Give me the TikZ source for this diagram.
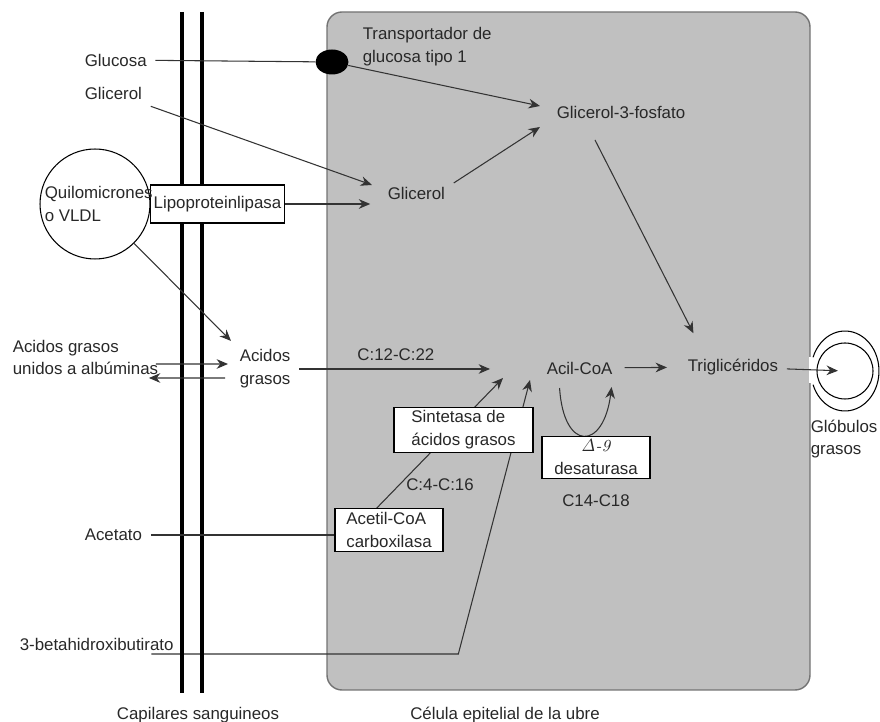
\documentclass[tikz,border=0pt]{standalone}
\usepackage[no-math]{fontspec}
\setsansfont{Liberation Sans}
\usetikzlibrary{arrows.meta,shapes.geometric,backgrounds}
\definecolor{celgray}{RGB}{192,192,192}
\definecolor{celedge}{RGB}{115,115,115}
\definecolor{txtgray}{RGB}{40,40,40}

\begin{document}
\begin{tikzpicture}[
    x=0.02cm, y=-0.02cm,
    font=\sffamily\fontsize{9.6}{13}\selectfont,
    lbl/.style={inner sep=0pt, outer sep=5pt, anchor=west, align=left, text=txtgray},
    box/.style={draw, fill=white, line width=0.6pt, inner sep=2pt, align=left, text=txtgray},
    ln/.style={draw=black!80, line width=0.6pt},
    arr/.style={ln, -{Stealth[length=6.5pt,width=5.5pt]}},
    capil/.style={line width=1.8pt}
]
    \useasboundingbox (0,0) rectangle (880,722);

    % Cell
    \begin{scope}[on background layer]
        \draw[fill=celgray, draw=celedge, line width=0.8pt, rounded corners=0.3cm]
            (327,12) rectangle (810,690);
        \draw[white, line width=1.5pt] (810,357) -- (810,383);
    \end{scope}

    % Capillaries
    \draw[capil] (182,12) -- (182,693);
    \draw[capil] (202,12) -- (202,693);

    % Blood side
    \node[lbl] (glucosa) at (76,60) {Glucosa};
    \node[lbl] (glicerolA) at (76,93) {Glicerol};
    \node[circle, draw, line width=0.6pt, minimum size=2.2cm, inner sep=0pt] (quiloc) at (95,204) {};
    \node[box, align=center, minimum width=2.62cm, minimum height=0.76cm] (lpl) at (217.5,204) {Lipoproteinlipasa};
    \node[lbl] (quilo) at (36,204) {Quilomicrones\\o VLDL};
    \node[lbl] (acidosAlb) at (4,357.5) {Acidos grasos\\unidos a albúminas};
    \node[lbl] (acidos) at (231,369) {Acidos\\grasos};
    \node[lbl] (acetato) at (76,535) {Acetato};
    \node[lbl] (betahb) at (11,644) {3-betahidroxibutirato};

    % Transporter
    \node[ellipse, fill=black, minimum width=0.66cm, minimum height=0.5cm, inner sep=0pt] (glut1) at (332,62) {};
    \node[lbl] (transp) at (354,46.5) {Transportador de\\glucosa tipo 1};

    % Cell side
    \node[lbl] (glicerolB) at (379,193) {Glicerol};
    \node[lbl] (g3p) at (548,112) {Glicerol-3-fosfato};
    \node[lbl] (acil) at (538,368) {Acil-CoA};
    \node[lbl] (trig) at (679,367) {Triglicéridos};
    \node[box, minimum width=2.78cm, minimum height=0.88cm] (sint) at (463.5,430) {Sintetasa de\\ácidos grasos};
    \node[box, minimum width=2.16cm, minimum height=0.8cm] (acetil) at (389,530) {Acetil-CoA\\carboxilasa};
    \node[box, align=center, minimum width=2.16cm, minimum height=0.82cm] (desat) at (596,457.5)
        {{\rmfamily$\mathit{\Delta}$\textit{-9}}\\desaturasa};
    \node[lbl, anchor=center] (c416) at (440,485) {C:4-C:16};
    \node[lbl, anchor=center] (c14) at (596,501) {C14-C18};

    % Fat globule
    \node[circle, draw, line width=0.6pt, minimum size=1.12cm, inner sep=0pt] (glob) at (845,371) {};
    \draw[line width=0.6pt] (glob.center) ++(200:0.68cm and 0.8cm)
        arc[start angle=200, end angle=520, x radius=0.68cm, y radius=0.8cm];
    \node[lbl] (globLbl) at (802,439) {Glóbulos\\grasos};

    % Captions
    \node[lbl, anchor=center] (capilares) at (198,715) {Capilares sanguineos};
    \node[lbl, anchor=center] (celula) at (505,715) {Célula epitelial de la ubre};

    % Arrows
    \draw[ln] (glucosa) -- (glut1);
    \draw[arr] (glut1) -- ([shift={(-8,-6)}]g3p.west);
    \draw[arr] (glicerolA) -- ([shift={(-7,-8)}]glicerolB.west);
    \draw[arr, shorten >=5pt] (lpl) -- (lpl -| glicerolB.west);
    \draw[arr] (glicerolB.15) -- ([shift={(-8,15)}]g3p.west);
    \draw[arr] (quiloc) -- (acidos.north west);
    \draw[arr] ([shift={(-11,6.5)}]acidosAlb.east) -- ([shift={(-3,-5)}]acidos.west);
    \draw[arr] ([shift={(-6,9)}]acidos.west) -- ([shift={(-18,20.5)}]acidosAlb.east);
    \draw[arr, shorten >=0.96cm] (acidos.east) -- (acidos.east -| acil.west)
        node[lbl, pos=0.405, above] (c1222) {C:12-C:22};
    \draw[ln] (acetato) -- (acetato -| acetil.west);
    \draw[arr, shorten <=2pt, shorten >=0.24cm] (acil) -- (trig);
    \draw[arr] ([shift={(-26,13)}]g3p.south) -- ([shift={(-39.5,-17)}]trig.north);
    \draw[arr, shorten >=4pt] (trig) -- (glob.center);
    \begin{scope}[on background layer]
        \draw[arr] ([shift={(-20,20)}]acil.center) .. controls +(4,64) and +(-8,64) .. ([shift={(32,19)}]acil.center);
        \draw[arr] (acetil.120) -- ([shift={(-35,10)}]acil.west);
        \draw[arr] ([shift={(-31,10)}]betahb.east) -- ++(307,0) -- ([shift={(-8,12)}]acil.west);
    \end{scope}
\end{tikzpicture}
\end{document}
